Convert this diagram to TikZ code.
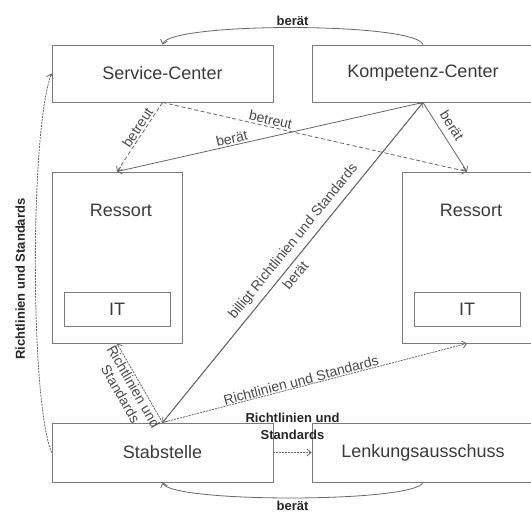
\documentclass[tikz,border=0pt]{standalone}
\usepackage{fontspec}
\setmainfont{Liberation Sans}
\usetikzlibrary{arrows.meta}
\definecolor{edgegray}{HTML}{666666}
\definecolor{boxgray}{HTML}{7A7A7A}
\definecolor{boxtext}{HTML}{3A3A3A}
\definecolor{labeltext}{HTML}{4A4A4A}
\begin{document}
\begin{tikzpicture}[x=1pt,y=-1pt,
  box/.style={draw=boxgray, line width=0.9pt, rectangle, inner sep=0pt,
    text=boxtext, font=\fontsize{18}{21}\selectfont},
  boxtitle/.style={text=boxtext, font=\fontsize{18}{21}\selectfont, inner sep=0pt},
  conn/.style={draw=edgegray, line width=0.8pt, -{Straight Barb[length=4pt,width=7pt]}},
  dashconn/.style={conn, dash pattern=on 4pt off 2.5pt},
  dotconn/.style={conn, dash pattern=on 2pt off 1pt},
  lab/.style={text=labeltext, font=\fontsize{14}{15}\selectfont, inner sep=1.5pt},
  blab/.style={text=black!85, font=\bfseries\fontsize{13}{17}\selectfont, inner sep=1pt},
]
\clip (0,0) rectangle (531,517);

% boxes
\node[box, minimum width=221pt, minimum height=57pt] (SC) at (162.5,73.5) {Service-Center};
\node[box, minimum width=222pt, minimum height=57pt] (KC) at (423,73.5) {Kompetenz-Center};
\node[box, minimum width=130pt, minimum height=171pt] (RL) at (117,257.5) {};
\node[boxtitle] (RLt) at (121,210) {Ressort};
\node[box, minimum width=106pt, minimum height=34pt] (ITL) at (117,309) {IT};
\node[box, minimum width=130pt, minimum height=171pt] (RR) at (467,257.5) {};
\node[boxtitle] (RRt) at (471,210) {Ressort};
\node[box, minimum width=106pt, minimum height=34pt] (ITR) at (467,309) {IT};
\node[box, minimum width=221pt, minimum height=59pt] (ST) at (162.5,452.5) {Stabstelle};
\node[box, minimum width=222pt, minimum height=59pt] (LA) at (423,452.5) {Lenkungsausschuss};

% advice loops between the top and bottom pairs
\draw[conn] (KC.north) .. controls (415,22) and (170,22) .. node[blab, midway, above=1pt] (topl) {berät} (SC.north);
\draw[conn] (LA.south) .. controls (415,503) and (170,503) .. node[blab, midway, below=2pt] (botl) {berät} (ST.south);

% guidelines from the staff unit up to the service center
\draw[dotconn] (ST.west) .. controls (30,400) and (30,130) .. node[blab, pos=0.47, rotate=90, anchor=south, inner sep=10pt] (leftl) {Richtlinien und Standards} (SC.west);

% service center
\draw[dashconn] (SC.south) -- node[lab, pos=0.42, sloped, above] (b1) {betreut} (RL.north);
\draw[dashconn] (SC.south) -- node[lab, pos=0.35, sloped, above] (b2) {betreut} (RR.north);

% competence center
\draw[conn] (KC.south) -- node[lab, pos=0.62, sloped, above] (k1) {berät} (RL.north);
\draw[conn] (KC.south) -- node[lab, pos=0.43, sloped, above=5pt] (k2) {berät} (RR.north);

% staff unit and competence center
\draw[conn] (ST.north) -- node[lab, pos=0.54, sloped, above=4pt] (s1) {billigt Richtlinien und Standards} (KC.south);
\draw[conn] (KC.south) -- node[lab, pos=0.52, sloped, below=3pt] (s2) {berät} (ST.north);

% guidelines from the staff unit
\draw[dotconn] (ST.north) -- node[lab, midway, sloped, below, align=center] (g1) {Richtlinien und\\Standards} (RL.south);
\draw[dotconn] (ST.north) -- node[lab, pos=0.46, sloped, above, inner sep=0.5pt] (g2) {Richtlinien und Standards} (RR.south);
\draw[dotconn] (ST.east) -- node[blab, midway, above=11pt, align=center] (g3) {Richtlinien und\\Standards} (LA.west);
\end{tikzpicture}
\end{document}
